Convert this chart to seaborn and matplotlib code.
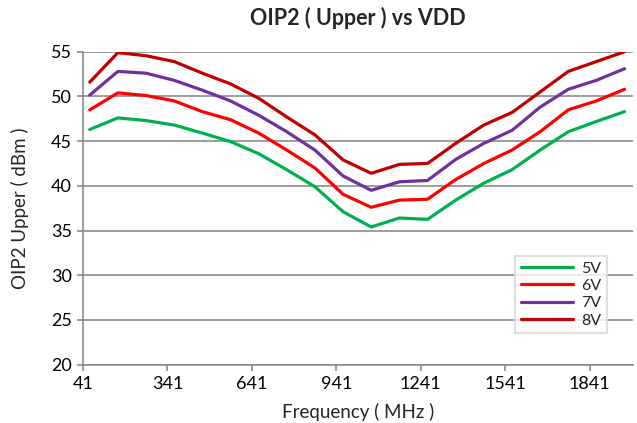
import pandas as pd
import matplotlib.pyplot as plt
import seaborn as sns

# frequency points (MHz) and OIP2 upper readings (dBm) per supply voltage
freq = [65, 165, 265, 365, 465, 565, 665, 765, 865, 965,
        1065, 1165, 1265, 1365, 1465, 1565, 1665, 1765, 1865, 1965]
oip2_5v = [46.3, 47.6, 47.3, 46.8, 45.9, 44.95, 43.6, 41.8, 39.9, 37.1,
           35.4, 36.4, 36.25, 38.4, 40.3, 41.8, 44.0, 46.05, 47.2, 48.3]
oip2_6v = [48.5, 50.4, 50.1, 49.5, 48.3, 47.4, 45.9, 44.0, 42.0, 39.05,
           37.6, 38.4, 38.5, 40.7, 42.5, 44.0, 46.05, 48.5, 49.5, 50.8]
oip2_7v = [50.15, 52.8, 52.6, 51.8, 50.7, 49.5, 47.9, 46.05, 44.0, 41.1,
           39.5, 40.45, 40.6, 42.95, 44.75, 46.2, 48.8, 50.8, 51.8, 53.1]
oip2_8v = [51.6, 54.9, 54.55, 53.9, 52.6, 51.4, 49.8, 47.7, 45.7, 42.9,
           41.4, 42.4, 42.5, 44.75, 46.8, 48.2, 50.5, 52.8, 53.9, 55.0]
x_ticks = [41, 341, 641, 941, 1241, 1541, 1841]

series = {"5V": oip2_5v, "6V": oip2_6v, "7V": oip2_7v, "8V": oip2_8v}
df = pd.concat(
    [pd.DataFrame({"Frequency": freq, "OIP2": v, "VDD": k}) for k, v in series.items()],
    ignore_index=True,
)

sns.set_style("white")
plt.rcParams["font.family"] = ["Lato", "DejaVu Sans"]

fig = plt.figure(figsize=(6.37, 4.23), dpi=100)
ax = fig.add_axes([0.1303, 0.138, 0.8634, 0.7397])

palette = {"5V": "#00B050", "6V": "#FF0000", "7V": "#7030A0", "8V": "#C00000"}
sns.lineplot(data=df, x="Frequency", y="OIP2", hue="VDD", palette=palette,
             linewidth=2.3, ax=ax, legend=True)

ax.set_xlim(41, 1995)
ax.set_ylim(20, 55)
ax.set_xticks(x_ticks)
ax.set_yticks(range(20, 56, 5))
ax.yaxis.grid(True, color="#8c8c8c", linewidth=1.2)
ax.set_axisbelow(True)

for s in ["top", "right"]:
    ax.spines[s].set_visible(False)
for s in ["left", "bottom"]:
    ax.spines[s].set_color("#8c8c8c")
    ax.spines[s].set_linewidth(1.2)

ax.tick_params(axis="both", labelsize=13, colors="#8c8c8c", labelcolor="black",
               length=4, width=1.2, direction="out", left=True, bottom=True)
ax.tick_params(axis="x", pad=4)
ax.tick_params(axis="y", pad=4)

ax.set_xlabel("Frequency ( MHz )", fontsize=13.5, labelpad=8)
ax.set_ylabel("OIP2 Upper ( dBm )", fontsize=13.5, labelpad=16)
ax.set_title("OIP2 ( Upper ) vs VDD", fontsize=15.5, fontweight="bold", pad=19)

leg = ax.legend(loc="lower right", bbox_to_anchor=(0.953, 0.1), fontsize=11.5,
                frameon=True, fancybox=False, handlelength=3.3,
                handletextpad=0.5, borderpad=0.35, labelspacing=0.2,
                borderaxespad=0)
leg.get_frame().set_edgecolor("#d9d9d9")
leg.get_frame().set_linewidth(1.5)

fig.savefig("out.png", dpi=100)
